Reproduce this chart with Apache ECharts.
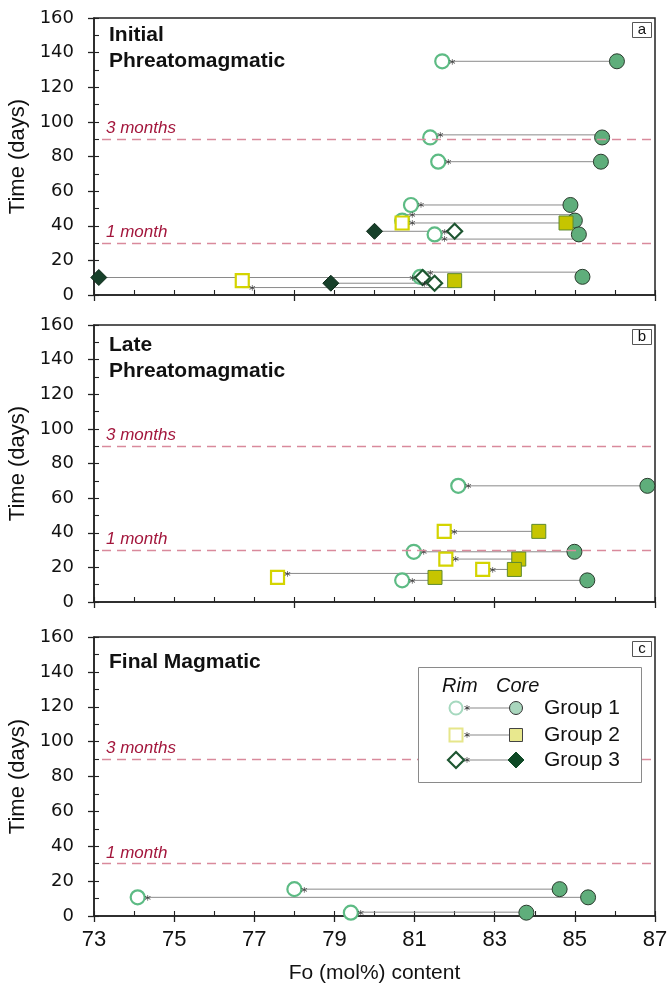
<!DOCTYPE html>
<html>
<head>
<meta charset="utf-8">
<script src="https://cdn.jsdelivr.net/npm/echarts@6/dist/echarts.min.js"></script>
<style>html,body{margin:0;padding:0;background:#fff}#chart{width:669px;height:989px}</style>
</head>
<body>
<div id="chart"></div>
<script>
// ---------- DATA ----------
const xTickLabels = ['73','75','77','79','81','83','85','87'];
const yTicks = [0,20,40,60,80,100,120,140,160];
const panelTitles = [['Initial','Phreatomagmatic'],['Late','Phreatomagmatic'],['Final Magmatic']];
const panelLetters = ['a','b','c'];
const refLines = [30, 90];
const refLabels = ['1 month', '3 months'];
const legendGroups = ['Group 1','Group 2','Group 3'];

// Panel a — Initial Phreatomagmatic
const aG1Rim  = [81.69, 81.39, 81.59, 80.91, 80.69, 81.50, 81.14];
const aG1Core = [86.05, 85.68, 85.65, 84.89, 85.00, 85.10, 85.19];
const aG1Time = [135, 91, 77, 52, 43, 35, 10.5];
const aG1LineTime = [135, 92.5, 77, 52, 46.4, 32.3, 13.2];
const aG2Rim  = [80.69, 76.70];
const aG2Core = [84.78, 82.00];
const aG2Time = [41.6, 8.3];
const aG2LineTime = [41.6, 4.3];
const aG3Rim  = [82.00, 81.20, 81.50];
const aG3Core = [80.00, 73.12, 78.91];
const aG3Time = [36.8, 10.1, 6.8];
const aG3LineTime = [36.8, 10.1, 6.8];

// Panel b — Late Phreatomagmatic
const bG1Rim  = [82.09, 80.98, 80.69];
const bG1Core = [86.81, 84.99, 85.31];
const bG1Time = [67.1, 29.0, 12.5];
const bG1LineTime = [67.1, 29.0, 12.5];
const bG2Rim  = [81.74, 81.78, 82.70, 77.58];
const bG2Core = [84.10, 83.60, 83.49, 81.51];
const bG2Time = [40.8, 24.8, 18.8, 14.2];
const bG2LineTime = [40.8, 24.8, 18.8, 16.5];

// Panel c — Final Magmatic
const cG1Rim  = [78.00, 74.09, 79.41];
const cG1Core = [84.62, 85.33, 83.79];
const cG1Time = [15.4, 10.7, 1.9];
const cG1LineTime = [15.4, 10.7, 2.2];

// ---------- STYLE ----------
const GROUP_STYLE = {
  1: {rimSym:'circle', rimSize:14, rimColor:'#5dbb84', coreColor:'#5fae7b', coreBorder:'#2b3b2e', coreSize:15},
  2: {rimSym:'rect', rimSize:13, rimColor:'#d4d400', coreColor:'#c6c500', coreBorder:'#5e8a2e', coreSize:14},
  3: {rimSym:'diamond', rimSize:15, rimColor:'#1e5631', coreColor:'#17402a', coreBorder:'#0c2a18', coreSize:16}
};
const panels = [
  {top:18, height:277, labels:false, interval:5, groups:[
    [1,aG1Rim,aG1Core,aG1Time,aG1LineTime],[2,aG2Rim,aG2Core,aG2Time,aG2LineTime],[3,aG3Rim,aG3Core,aG3Time,aG3LineTime]]},
  {top:325, height:277, labels:false, interval:5, groups:[
    [1,bG1Rim,bG1Core,bG1Time,bG1LineTime],[2,bG2Rim,bG2Core,bG2Time,bG2LineTime]]},
  {top:637, height:279, labels:true, interval:2, groups:[
    [1,cG1Rim,cG1Core,cG1Time,cG1LineTime]]}
];
const LEFT = 94, RIGHT = 14;
const axisColor = '#222';

const grid = [], xAxis = [], yAxis = [], series = [], graphic = [];

panels.forEach((p, pi) => {
  grid.push({left:LEFT, right:RIGHT, top:p.top, height:p.height, show:true, borderColor:axisColor, borderWidth:1.5, backgroundColor:'transparent', containLabel:false, outerBoundsMode:'none'});
  xAxis.push({
    gridIndex:pi, type:'value', min:73, max:87, interval:p.interval,
    axisLine:{show:true, onZero:false, lineStyle:{color:axisColor, width:1.5}},
    axisTick:{show:true, inside:false, length:6, lineStyle:{color:axisColor, width:1.3}},
    axisLabel:{show:p.labels, margin:13, color:'#111', fontFamily:'Liberation Sans', fontSize:22,
      formatter: v => xTickLabels.indexOf(String(v)) >= 0 ? String(v) : ''},
    splitLine:{show:false},
    name: p.labels ? 'Fo (mol%) content' : '',
    nameLocation:'middle', nameGap:47,
    nameTextStyle:{fontFamily:'Liberation Sans', fontSize:21, color:'#111'}
  });
  xAxis.push({
    gridIndex:pi, type:'value', min:73, max:87, interval:1, position:'bottom',
    axisLine:{show:false}, axisLabel:{show:false}, splitLine:{show:false},
    axisTick:{show:true, inside:true, length:5, lineStyle:{color:axisColor, width:1.1}}
  });
  yAxis.push({
    gridIndex:pi, type:'value', min:0, max:160, interval:20,
    axisLine:{show:true, onZero:false, lineStyle:{color:axisColor, width:1.5}},
    axisTick:{show:true, inside:false, length:6, lineStyle:{color:axisColor, width:1.3}},
    axisLabel:{show:true, margin:20, color:'#111', fontFamily:'DejaVu Sans', fontSize:18,
      formatter: v => yTicks.indexOf(v) >= 0 ? String(v) : ''},
    splitLine:{show:false},
    name:'Time (days)', nameLocation:'middle', nameRotate:90, nameGap:64,
    nameTextStyle:{fontFamily:'Liberation Sans', fontSize:22, color:'#111'}
  });
  yAxis.push({
    gridIndex:pi, type:'value', min:0, max:160, interval:10, position:'left',
    axisLine:{show:false}, axisLabel:{show:false}, splitLine:{show:false},
    axisTick:{show:true, inside:true, length:5, lineStyle:{color:axisColor, width:1.1}}
  });

  const xi = pi*2, yi = pi*2;
  p.groups.forEach(([g, rim, core, t, tl], gi) => {
    const st = GROUP_STYLE[g];
    rim.forEach((r, i) => {
      series.push({type:'line', xAxisIndex:xi, yAxisIndex:yi, silent:true, symbol:'none', z:1,
        lineStyle:{color:'#8a8a8a', width:1}, data:[[r, tl[i]],[core[i], tl[i]]], animation:false});
    });
    series.push({type:'scatter', xAxisIndex:xi, yAxisIndex:yi, silent:true, symbolSize:1, z:4,
      itemStyle:{color:'transparent'},
      data: rim.map((r,i) => ({value:[r, tl[i]], label:{offset:[core[i] > r ? 10 : -10, 3]}})),
      label:{show:true, position:'inside', formatter:'*', color:'#222', fontSize:13, fontFamily:'DejaVu Sans'},
      animation:false});
    const rimSeries = {type:'scatter', xAxisIndex:xi, yAxisIndex:yi, z:3, symbol:st.rimSym, symbolSize:st.rimSize,
      itemStyle:{color:'#ffffff', borderColor:st.rimColor, borderWidth:2.2, opacity:1},
      data: rim.map((r,i) => [r, t[i]]), animation:false};
    if (gi === 0) {
      rimSeries.markLine = {
        silent:true, symbol:['none','none'], animation:false,
        lineStyle:{color:'#d98a9c', type:[9,6], width:1.3},
        label:{show:true, position:'insideStartTop', distance:[4,2], color:'#a3163c', fontStyle:'italic',
          fontFamily:'Liberation Sans', fontSize:17},
        data: refLines.map((v, k) => [
          {coord:[73.2, v], name:refLabels[k], label:{formatter:refLabels[k]}},
          {coord:[87, v]}
        ])
      };
    }
    series.push(rimSeries);
    series.push({type:'scatter', xAxisIndex:xi, yAxisIndex:yi, z:3, symbol:st.rimSym, symbolSize:st.coreSize,
      itemStyle:{color:st.coreColor, borderColor:st.coreBorder, borderWidth:1, opacity:1},
      data: core.map((c,i) => [c, t[i]]), animation:false});
  });

  const titleY = [[35, 61],[345, 371],[662]][pi];
  panelTitles[pi].forEach((txt, k) => {
    graphic.push({type:'text', z:10, style:{text:txt, x:109, y:titleY[k], verticalAlign:'middle',
      font:'bold 21px "Liberation Sans"', fill:'#111'}});
  });
  const by = p.top + 4;
  graphic.push({type:'rect', z:10, shape:{x:632.5, y:by+0.5, width:19, height:15}, style:{fill:'#fff', stroke:'#555', lineWidth:1}});
  graphic.push({type:'text', z:11, style:{text:panelLetters[pi], x:642, y:by+8, align:'center', verticalAlign:'middle',
    font:'15px "Liberation Sans"', fill:'#111'}});
});

// legend (panel c)
const LG = {x:418, y:667, w:223, h:115};
graphic.push({type:'rect', z:20, shape:{x:LG.x+0.5, y:LG.y+0.5, width:LG.w, height:LG.h}, style:{fill:'#fff', stroke:'#8a8a8a', lineWidth:1}});
graphic.push({type:'text', z:21, style:{text:'Rim', x:442, y:686, verticalAlign:'middle', font:'italic 20px "Liberation Sans"', fill:'#111'}});
graphic.push({type:'text', z:21, style:{text:'Core', x:496, y:686, verticalAlign:'middle', font:'italic 20px "Liberation Sans"', fill:'#111'}});
const rowsY = [708, 735, 760];
const legRim = ['#a6d9bf', '#e6e68a', '#1e5631'];
const legCore = ['#a9d6bd', '#e8e88e', '#0f4a26'];
rowsY.forEach((ry, k) => {
  graphic.push({type:'line', z:21, shape:{x1:466, y1:ry, x2:512, y2:ry}, style:{stroke:'#8a8a8a', lineWidth:1.2}});
  graphic.push({type:'text', z:22, style:{text:'*', x:467, y:ry+3, align:'center', verticalAlign:'middle', font:'12px "DejaVu Sans"', fill:'#333'}});
  if (k === 0) {
    graphic.push({type:'circle', z:22, shape:{cx:456, cy:ry, r:6.5}, style:{fill:'#fff', stroke:legRim[k], lineWidth:2}});
    graphic.push({type:'circle', z:22, shape:{cx:516, cy:ry, r:6.5}, style:{fill:legCore[k], stroke:'#333', lineWidth:1}});
  } else if (k === 1) {
    graphic.push({type:'rect', z:22, shape:{x:449.5, y:ry-6.5, width:13, height:13}, style:{fill:'#fff', stroke:legRim[k], lineWidth:2}});
    graphic.push({type:'rect', z:22, shape:{x:509.5, y:ry-6.5, width:13, height:13}, style:{fill:legCore[k], stroke:'#444', lineWidth:1}});
  } else {
    graphic.push({type:'polygon', z:22, shape:{points:[[456,ry-8],[464,ry],[456,ry+8],[448,ry]]}, style:{fill:'#fff', stroke:legRim[k], lineWidth:2.2}});
    graphic.push({type:'polygon', z:22, shape:{points:[[516,ry-8],[524,ry],[516,ry+8],[508,ry]]}, style:{fill:legCore[k], stroke:legCore[k], lineWidth:1}});
  }
  graphic.push({type:'text', z:22, style:{text:legendGroups[k], x:544, y:ry, verticalAlign:'middle', font:'21px "Liberation Sans"', fill:'#111'}});
});

const chart = echarts.init(document.getElementById('chart'), null, {renderer:'canvas'});
chart.setOption({
  animation:false,
  backgroundColor:'#ffffff',
  grid, xAxis, yAxis, series, graphic
});
</script>
</body>
</html>
